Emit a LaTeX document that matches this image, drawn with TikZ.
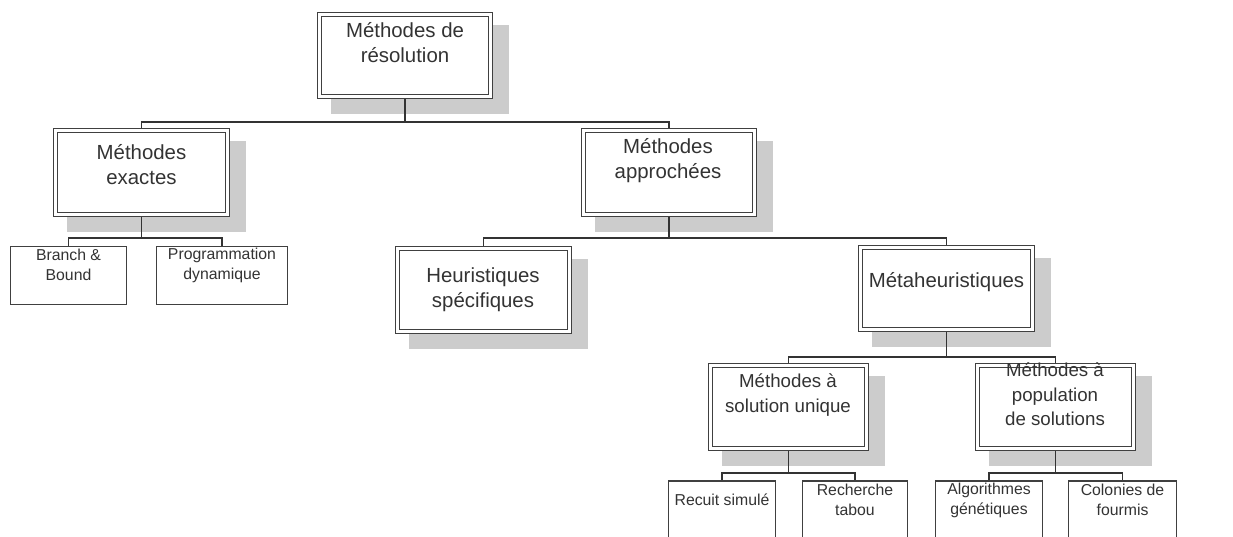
\documentclass[tikz,border=0pt]{standalone}
\usepackage{fontspec}
\setmainfont{Liberation Sans}
\usetikzlibrary{backgrounds}
\tikzset{
  dbox/.style={draw=black!75, double=white, double distance=2.3pt, line width=1.3pt,
    fill=white, rectangle, inner sep=0pt},
  sbox/.style={draw=black!75, line width=1.3pt, fill=white, rectangle, inner sep=0pt},
  txt/.style={align=center, inner sep=0pt, text=black!80},
  big/.style={txt, font=\fontsize{20.4}{25}\selectfont},
  mid/.style={txt, font=\fontsize{18.7}{24.5}\selectfont},
  small/.style={txt, font=\fontsize{15.8}{20}\selectfont},
  conn/.style={draw=black!80, line width=1.3pt},
  shade/.style={fill=black!20}
}
\begin{document}
\begin{tikzpicture}[x=1pt,y=-1pt]
\useasboundingbox (0,0) rectangle (1233,537);
\clip (0,0) rectangle (1233,537);
% double boxes (path size = outer - 4.9)
\node[dbox, minimum width=171.1pt, minimum height=82.1pt] (root) at (405,55.5) {};
\node[dbox, minimum width=172.1pt, minimum height=84.1pt] (exact) at (141.5,172.5) {};
\node[dbox, minimum width=171.1pt, minimum height=84.1pt] (appr) at (669,172.5) {};
\node[dbox, minimum width=172.1pt, minimum height=83.1pt] (heur) at (483.5,290) {};
\node[dbox, minimum width=172.1pt, minimum height=82.1pt] (meta) at (946.5,288.5) {};
\node[dbox, minimum width=156.1pt, minimum height=83.1pt] (uniq) at (788.5,407) {};
\node[dbox, minimum width=156.1pt, minimum height=83.1pt] (pop) at (1055.5,407) {};
% single boxes
\node[sbox, minimum width=116pt, minimum height=58pt] (branch) at (68.5,275.5) {};
\node[sbox, minimum width=131pt, minimum height=58pt] (prog) at (222,275.5) {};
\node[sbox, minimum width=107pt, minimum height=80pt] (recuit) at (722,521) {};
\node[sbox, minimum width=105pt, minimum height=80pt] (recherche) at (855,521) {};
\node[sbox, minimum width=107pt, minimum height=80pt] (algo) at (989,521) {};
\node[sbox, minimum width=108pt, minimum height=80pt] (colonies) at (1122.5,521) {};
% texts
\node[big] (root-t) at (405,42.5) {Méthodes de\\résolution};
\node[big] (exact-t) at (141.5,164.5) {Méthodes\\exactes};
\node[big] (appr-t) at (668,160.5) {Méthodes\\approchées};
\node[big] (heur-t) at (483,289.5) {Heuristiques\\spécifiques};
\node[big] (meta-t) at (946.5,282) {Métaheuristiques};
\node[mid] (uniq-t) at (788,395) {Méthodes à\\solution unique};
\node[mid] (pop-t) at (1055,394.5) {Méthodes à\\population\\de solutions};
\node[small] (branch-t) at (68.5,265) {Branch \&\\Bound};
\node[small] (prog-t) at (222,265) {Programmation\\dynamique};
\node[small] (recuit-t) at (722,500) {Recuit simulé};
\node[small] (recherche-t) at (855,500) {Recherche\\tabou};
\node[small] (algo-t) at (989,500) {Algorithmes\\génétiques};
\node[small] (colonies-t) at (1122.5,500) {Colonies de\\fourmis};
% bus coordinates
\coordinate (b1) at (405,122);
\coordinate (b2) at (141.5,238);
\coordinate (b3) at (669,238);
\coordinate (b4) at (946.5,357);
\coordinate (b5) at (788.5,473);
\coordinate (b6) at (1055.5,473);
\begin{scope}[on background layer]
  \foreach \n in {root,exact,appr,heur,meta,uniq,pop}{
    \fill[shade] ([shift={(12.55,11.55)}]\n.north west) rectangle ([shift={(17.45,16.45)}]\n.south east);
  }
  \draw[conn] (root.south) -- (b1);
  \draw[conn] (exact.north) |- (b1) -| (appr.north);
  \draw[conn] (exact.south) -- (b2);
  \draw[conn] (branch.north) |- (b2) -| (prog.north);
  \draw[conn] (appr.south) -- (b3);
  \draw[conn] (heur.north) |- (b3) -| (meta.north);
  \draw[conn] (meta.south) -- (b4);
  \draw[conn] (uniq.north) |- (b4) -| (pop.north);
  \draw[conn] (uniq.south) -- (b5);
  \draw[conn] (recuit.north) |- (b5) -| (recherche.north);
  \draw[conn] (pop.south) -- (b6);
  \draw[conn] (algo.north) |- (b6) -| (colonies.north);
\end{scope}
\end{tikzpicture}
\end{document}
